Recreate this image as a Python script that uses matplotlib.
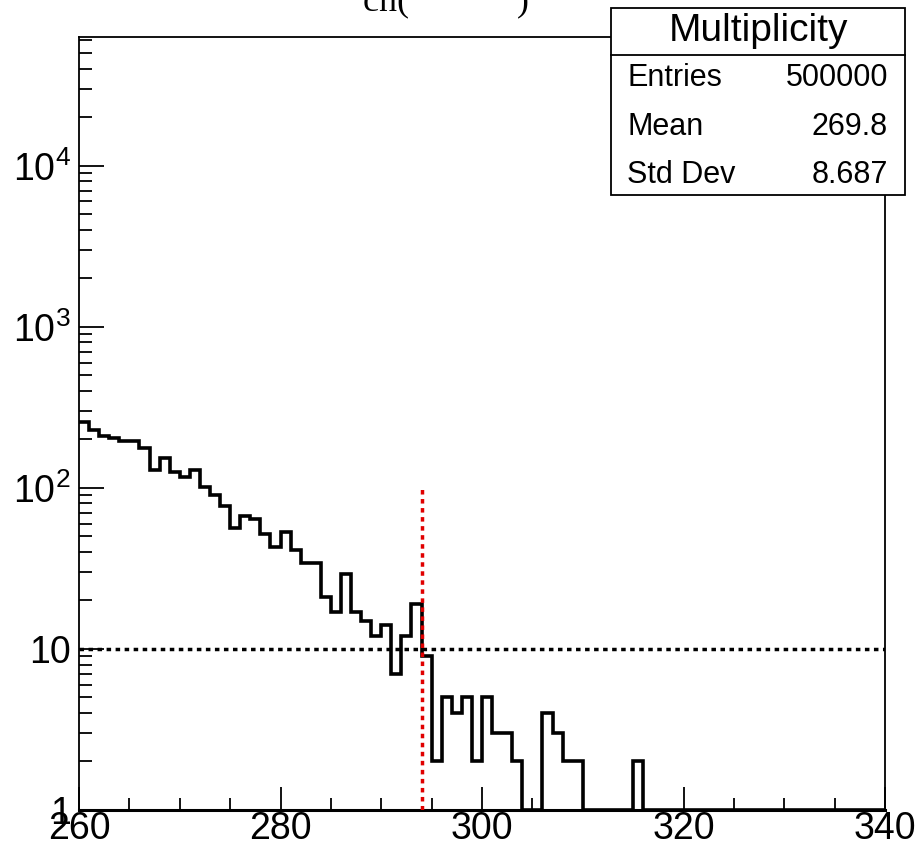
import numpy as np
import matplotlib
matplotlib.use("Agg")
import matplotlib.pyplot as plt
from matplotlib.ticker import FixedLocator, FixedFormatter

plt.rcParams['font.family'] = ['Liberation Sans', 'DejaVu Sans']
plt.rcParams['mathtext.fontset'] = 'custom'
plt.rcParams['mathtext.rm'] = 'Liberation Sans'
plt.rcParams['mathtext.it'] = 'Liberation Sans:italic'

# histogram: 1-wide bins from 260 to 340
bin_lo = 260
bin_hi = 340
counts = [255, 229, 211, 204, 196, 196, 178, 129, 154, 126,   # 260-269
          117, 129, 101, 90, 77, 56, 67, 64, 52, 43,          # 270-279
          53, 41, 34, 34, 21, 17, 29, 17, 15, 12,             # 280-289
          14, 7, 12, 19, 9, 2, 5, 4, 5, 2,                    # 290-299
          5, 3, 3, 2, 0, 0, 4, 3, 2, 2,                       # 300-309
          0, 0, 0, 0, 0, 2, 0, 0, 0, 0,                       # 310-319
          0, 0, 0, 0, 0, 0, 0, 0, 0, 0,                       # 320-329
          0, 0, 0, 0, 0, 0, 0, 0, 0, 0]                       # 330-339

threshold_y = 10      # horizontal cut line
cut_x = 294           # vertical cut line
cut_top = 100

stat_names = ["Entries", "Mean", "Std Dev"]
stat_vals = ["500000", "269.8", "8.687"]

ymin, ymax = 1, 6.3e4

fig = plt.figure(figsize=(9.19, 8.5), dpi=100)
ax = fig.add_axes([0.086, 0.0471, 0.877, 0.9094])

edges = np.arange(bin_lo, bin_hi + 1)
vals = np.array(counts, dtype=float)
vals = np.where(vals > 0, vals, ymin)   # empty bins drawn on the floor, like ROOT
ax.stairs(vals, edges, color='black', lw=2.6, baseline=None, zorder=3)

ax.plot([bin_lo, bin_hi], [threshold_y, threshold_y], color='black', lw=2.5,
        linestyle=(0, (1.3, 1.3)), zorder=4)
ax.plot([cut_x, cut_x], [ymin, cut_top], color='#e00000', lw=2.5,
        linestyle=(0, (1.3, 1.3)), zorder=5)

ax.set_yscale('log')
ax.set_xlim(bin_lo, bin_hi)
ax.set_ylim(ymin, ymax)

# ticks, ROOT style
ax.xaxis.set_major_locator(FixedLocator([260, 280, 300, 320, 340]))
ax.xaxis.set_minor_locator(FixedLocator(np.arange(265, 340, 5)))
ax.set_xticklabels(['260', '280', '300', '320', '340'])
ydec = [1, 10, 100, 1000, 10000]
ax.yaxis.set_major_locator(FixedLocator(ydec))
ax.yaxis.set_major_formatter(FixedFormatter(['1', '10', r'$\mathregular{10^{2}}$',
                                             r'$\mathregular{10^{3}}$', r'$\mathregular{10^{4}}$']))
minors = [m * d for d in ydec for m in range(2, 10) if m * d < ymax]
ax.yaxis.set_minor_locator(FixedLocator(minors))
ax.yaxis.set_minor_formatter(FixedFormatter([''] * len(minors)))

ax.tick_params(axis='both', which='both', direction='in', top=False, right=False,
               width=1.3, labelsize=27)
ax.tick_params(axis='x', which='major', length=16.5, pad=1)
ax.tick_params(axis='x', which='minor', length=8.5)
ax.tick_params(axis='y', which='major', length=18, pad=6)
ax.tick_params(axis='y', which='minor', length=9)
for s in ax.spines.values():
    s.set_linewidth(1.3)
ax.spines['bottom'].set_linewidth(2.2)

# cut-off title at the very top
fig.text(0.485, 0.988, "cn(            )", family=['Liberation Serif', 'DejaVu Serif'],
         fontsize=26, ha='center', va='baseline')

# stats box
bx0, bx1 = 0.665, 0.985
by0, by1 = 0.7706, 0.9906
fig.patches.append(plt.Rectangle((bx0, by0), bx1 - bx0, by1 - by0, transform=fig.transFigure,
                                 facecolor='white', edgecolor='black', lw=1.3, zorder=10))
fig.lines.append(plt.Line2D([bx0, bx1], [0.935, 0.935], transform=fig.transFigure,
                            color='black', lw=1.3, zorder=11))
fig.text((bx0 + bx1) / 2, 0.9635, "Multiplicity", fontsize=28, ha='center', va='center', zorder=12)
row_y = [1 - 78 / 850, 1 - 127 / 850, 1 - 175 / 850]
for name, val, yy in zip(stat_names, stat_vals, row_y):
    fig.text(627 / 919, yy, name, fontsize=22, ha='left', va='center', zorder=12)
    fig.text(888 / 919, yy, val, fontsize=22, ha='right', va='center', zorder=12)

fig.savefig("out.png", dpi=100)
